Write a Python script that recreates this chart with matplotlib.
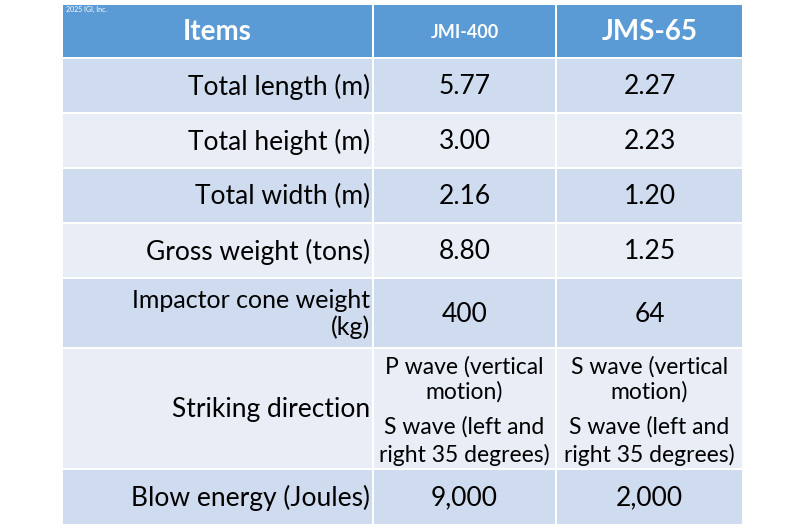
import matplotlib
matplotlib.use("Agg")
import matplotlib.pyplot as plt
from matplotlib.patches import Rectangle

headers = ["Items", "JMI-400", "JMS-65"]
items = ["Total length (m)", "Total height (m)", "Total width (m)", "Gross weight (tons)",
         "Impactor cone weight\n(kg)", "Striking direction", "Blow energy (Joules)"]
jmi400 = ["5.77", "3.00", "2.16", "8.80", "400",
          "P wave (vertical\nmotion)\nS wave (left and\nright 35 degrees)", "9,000"]
jms65 = ["2.27", "2.23", "1.20", "1.25", "64",
         "S wave (vertical\nmotion)\nS wave (left and\nright 35 degrees)", "2,000"]

col_x = [(63, 372), (374, 555), (557, 742)]
row_y = [(5, 57), (59, 112), (114, 167), (169, 222), (224, 277), (279, 347), (349, 468), (470, 524)]
row_colors = ["#cfdbee", "#e8edf6"]
FONT = "Lato"
FS = 19

fig = plt.figure(figsize=(8, 5.32), dpi=100)
ax = fig.add_axes([0, 0, 1, 1])
ax.set_xlim(0, 800); ax.set_ylim(532, 0); ax.axis("off")

def cell(c, r, color):
    x0, x1 = col_x[c]; y0, y1 = row_y[r]
    ax.add_patch(Rectangle((x0, y0), x1 - x0, y1 - y0, color=color, lw=0))

for c, h in enumerate(headers):
    cell(c, 0, "#5b9bd5")
    x0, x1 = col_x[c]; y0, y1 = row_y[0]
    ax.text((x0 + x1) / 2, (y0 + y1) / 2 + 1, h, ha="center", va="center", color="white",
            fontsize=13 if c == 1 else 20, fontweight="bold", family=FONT)
ax.text(66, 9, "2025 IGI, Inc.", fontsize=5, color="white", ha="left", va="center", family=FONT)

def multiline(x, y0, y1, s, ha, fs):
    lines = s.split("\n")
    n = len(lines)
    if n == 4:
        ys = [367, 392, 427, 455]
        ys = [y0 + (v - 349) for v in ys]
    else:
        sp = 26
        mid = (y0 + y1) / 2 + 1
        ys = [mid + (k - (n - 1) / 2) * sp for k in range(n)]
    for ln, y in zip(lines, ys):
        ax.text(x, y, ln, ha=ha, va="center", fontsize=fs, family=FONT)

for i in range(len(items)):
    r = i + 1
    col = row_colors[i % 2]
    for c in range(3):
        cell(c, r, col)
    y0, y1 = row_y[r]
    multiline(col_x[0][1] - 2, y0, y1, items[i], "right", 18 if "\n" in items[i] else FS)
    for c, vals in ((1, jmi400), (2, jms65)):
        x0, x1 = col_x[c]
        multiline((x0 + x1) / 2, y0, y1, vals[i], "center", 16.5 if "\n" in vals[i] else FS)

fig.savefig("out.png", dpi=100)
